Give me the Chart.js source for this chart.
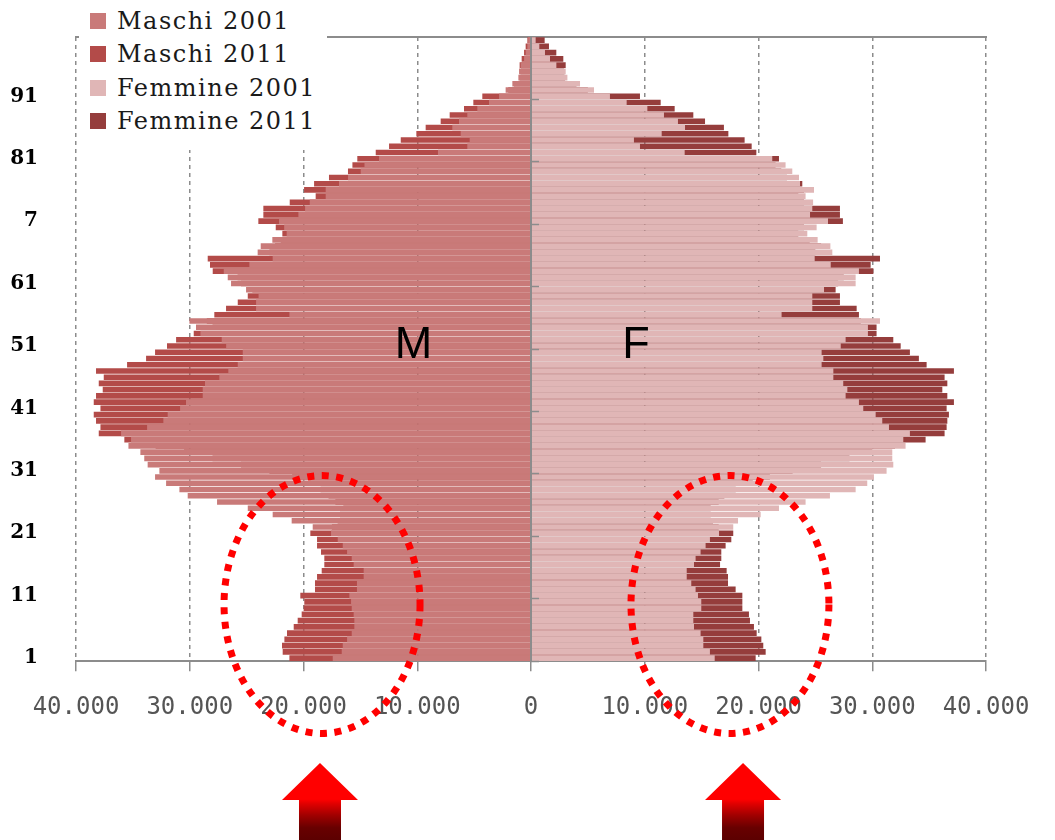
<!DOCTYPE html>
<html lang="it">
<head>
<meta charset="utf-8">
<title>Piramide delle età 2001 - 2011</title>
<script src="https://cdn.jsdelivr.net/npm/chart.js"></script>
<style>
  body { margin: 0; background: #fff; }
  #contenedor { position: relative; width: 1055px; height: 840px; }
  #leyenda {
    position: absolute; left: 79px; top: 0; width: 248px; height: 150px;
    background: #fff; padding-top: 4px; box-sizing: border-box;
    font-family: "DejaVu Serif", serif; font-size: 24px; letter-spacing: 1.5px; color: #1a1a1a;
  }
  .item { display: flex; align-items: center; height: 33.5px; padding-left: 11px; white-space: nowrap; }
  .caja { width: 16px; height: 16px; margin-right: 11px; flex: none; }
</style>
</head>
<body>
<div id="contenedor">
  <canvas id="myChart" width="1055" height="840"></canvas>
  <div id="leyenda"></div>
</div>
<script>
let myChart; // Variable global para almacenar el gráfico

// Età (categorie dell'asse verticale, dal basso verso l'alto)
const eta = [
  1, 2, 3, 4, 5, 6, 7, 8, 9, 10,
  11, 12, 13, 14, 15, 16, 17, 18, 19, 20,
  21, 22, 23, 24, 25, 26, 27, 28, 29, 30,
  31, 32, 33, 34, 35, 36, 37, 38, 39, 40,
  41, 42, 43, 44, 45, 46, 47, 48, 49, 50,
  51, 52, 53, 54, 55, 56, 57, 58, 59, 60,
  61, 62, 63, 64, 65, 66, 67, 68, 69, 70,
  71, 72, 73, 74, 75, 76, 77, 78, 79, 80,
  81, 82, 83, 84, 85, 86, 87, 88, 89, 90,
  91, 92, 93, 94, 95, 96, 97, 98, 99, 100,
];

// Etichette visibili dell'asse verticale (una ogni 10 anni, come nell'originale)
const etichetteEta = ["1", "11", "21", "31", "41", "51", "61", "7", "81", "91"];

// Popolazione per età (1 -> 100)
const maschi2001 = [
  17430, 16640, 16550, 16170, 15760, 15530, 15530, 15590, 15760, 15820,
  15970, 15300, 15300, 14710, 14710, 15590, 15760, 16170, 16550, 16990,
  17580, 19190, 21040, 22710, 24900, 27600, 30180, 30910, 32080, 33050,
  32670, 33700, 34000, 34340, 35390, 35160, 36040, 33750, 32320, 31940,
  30850, 30330, 28860, 28860, 28660, 27400, 26610, 25780, 25340, 25340,
  26800, 27190, 29060, 29450, 30030, 21240, 24170, 24170, 23950, 25050,
  26370, 26660, 27010, 24760, 22710, 24030, 23760, 22740, 21480, 21700,
  22150, 20450, 19860, 19450, 18050, 18050, 16880, 16090, 14970, 14640,
  13360, 8180, 5600, 5390, 6180, 6920, 6330, 5600, 4720, 3690,
  2810, 2230, 1640, 1110, 1050, 910, 610, 470, 320, 250,
];
const maschi2011 = [
  21240, 21830, 21890, 21680, 21450, 20860, 20510, 20160, 19990, 19930,
  20280, 18990, 18990, 18810, 18400, 18170, 18170, 18460, 18810, 18810,
  19400, 17500, 17000, 16800, 16500, 17200, 17800, 18500, 19500, 21000,
  23000, 25500, 28000, 30500, 33000, 35750, 38000, 37850, 38240, 38440,
  37850, 38440, 38240, 37650, 38000, 37560, 38240, 35510, 33840, 33050,
  32000, 31200, 29650, 28000, 28500, 27840, 26810, 25780, 24900, 24500,
  25500, 25800, 27980, 28220, 28420, 23000, 22500, 22000, 21860, 22440,
  23970, 23530, 23530, 21210, 18930, 19950, 19070, 17760, 16090, 15700,
  15270, 13650, 12480, 11450, 10080, 9260, 7940, 7150, 5890, 5070,
  4280, 2000, 1500, 1000, 900, 1000, 820, 610, 470, 320,
];
const femmine2001 = [
  16150, 15730, 15150, 15150, 14910, 14330, 14270, 14270, 14970, 14970,
  14680, 14470, 14090, 13690, 13690, 14330, 14470, 14910, 15350, 15730,
  16530, 17780, 18200, 20190, 21800, 24140, 26280, 28540, 29560, 30150,
  31260, 31850, 31760, 31760, 32930, 32730, 33310, 31470, 30880, 30300,
  29210, 28830, 27660, 27810, 27450, 26580, 26580, 25550, 25700, 25550,
  27230, 27660, 29620, 29620, 30680, 22030, 24730, 24730, 24730, 25760,
  28540, 28540, 28830, 26350, 24940, 26490, 26320, 25200, 24290, 25110,
  26110, 24530, 24730, 24800, 24140, 24880, 23650, 23560, 22970, 22380,
  21210, 13510, 9580, 9050, 11490, 13540, 12920, 11690, 10230, 8410,
  6940, 5540, 4310, 3200, 3050, 2230, 1670, 1230, 730, 410,
];
const femmine2011 = [
  19750, 20630, 20420, 20250, 19840, 19600, 19250, 19160, 18580, 18580,
  18580, 17990, 17320, 17320, 17200, 16620, 16730, 16730, 17110, 17610,
  17780, 16500, 16000, 15800, 15800, 16500, 17000, 18000, 19500, 21000,
  23000, 25500, 28000, 30000, 32000, 34690, 36360, 36540, 36600, 36740,
  36540, 37180, 36600, 36160, 36600, 36360, 37180, 34780, 34100, 33310,
  32500, 31850, 30380, 30380, 29000, 28830, 28630, 27160, 27160, 26780,
  27000, 27500, 30100, 29860, 30680, 25000, 25500, 24500, 23500, 24000,
  27420, 27160, 27160, 24000, 23500, 24000, 23850, 22500, 22000, 21500,
  21800, 19810, 19400, 18780, 17350, 16960, 15300, 14270, 12630, 11400,
  9580, 5000, 4000, 3000, 2900, 3050, 2840, 2225, 1580, 1200,
];

// Formato italiano delle migliaia: 40000 -> "40.000"
function formatoMigliaia(v) {
  return String(Math.abs(v)).replace(/\B(?=(\d{3})+(?!\d))/g, ".");
}

// Flecha roja con degradado hacia abajo
function dibujarFlecha(ctx, cx, yPunta, yBase, yFondo) {
  const grad = ctx.createLinearGradient(0, yPunta, 0, yFondo);
  grad.addColorStop(0, "#ff0000");
  grad.addColorStop(0.47, "#ff0000");
  grad.addColorStop(0.53, "#e00000");
  grad.addColorStop(0.68, "#a00000");
  grad.addColorStop(0.84, "#680000");
  grad.addColorStop(1, "#5c0000");
  ctx.fillStyle = grad;
  ctx.beginPath();
  ctx.moveTo(cx, yPunta);
  ctx.lineTo(cx + 38, yBase);
  ctx.lineTo(cx + 21, yBase);
  ctx.lineTo(cx + 21, yFondo);
  ctx.lineTo(cx - 21, yFondo);
  ctx.lineTo(cx - 21, yBase);
  ctx.lineTo(cx - 38, yBase);
  ctx.closePath();
  ctx.fill();
}

// Plugin para las anotaciones: letras M / F, elipses punteadas y flechas
const anotaciones = {
  id: "anotaciones",
  afterDraw(chart) {
    const { ctx, scales } = chart;
    const x = scales.x;
    const y = scales.y;
    const fila = Math.abs(y.getPixelForValue(0) - y.getPixelForValue(1)); // altura de una fila

    ctx.save();
    // Letras M y F
    ctx.fillStyle = "#000";
    ctx.font = "45px 'Liberation Sans', Arial, sans-serif";
    ctx.textAlign = "center";
    ctx.textBaseline = "middle";
    const yLetras = y.getPixelForValue(eta.indexOf(51));
    ctx.fillText("M", x.getPixelForValue(-10330), yLetras);
    ctx.fillText("F", x.getPixelForValue(9230), yLetras);

    // Elipses punteadas
    ctx.strokeStyle = "#ff0000";
    ctx.lineWidth = 7;
    ctx.setLineDash([7, 7.5]);
    const yElipse = y.getPixelForValue(8.58);
    const ry = 20.66 * fila;
    [[-18370, 8615], [17490, 8700]].forEach(([centro, radio]) => {
      const cx = x.getPixelForValue(centro);
      const rx = x.getPixelForValue(centro + radio) - cx;
      ctx.beginPath();
      ctx.ellipse(cx, yElipse, rx, ry, 0, 0, Math.PI * 2);
      ctx.stroke();
    });
    ctx.setLineDash([]);

    // Flechas
    const h = chart.height;
    [-18550, 18640].forEach((centro) => {
      dibujarFlecha(ctx, x.getPixelForValue(centro), h - 77, h - 40, h);
    });
    ctx.restore();
  },
};

const ctx = document.getElementById("myChart").getContext("2d");

myChart = new Chart(ctx, {
  type: "bar",
  data: {
    labels: eta,
    datasets: [
      { label: "Maschi 2001", data: maschi2001.map((v) => -v), backgroundColor: "#c97a79" },
      { label: "Maschi 2011", data: maschi2011.map((v) => -v), backgroundColor: "#b34b49" },
      { label: "Femmine 2001", data: femmine2001, backgroundColor: "#e0b6b6" },
      { label: "Femmine 2011", data: femmine2011, backgroundColor: "#953d3c" },
    ],
  },
  options: {
    indexAxis: "y",
    responsive: false,
    animation: false,
    layout: { padding: { top: 37, right: 69, bottom: 96, left: 0 } },
    datasets: {
      bar: { grouped: false, barPercentage: 0.9, categoryPercentage: 1, borderWidth: 0 },
    },
    plugins: {
      legend: { display: false },
      tooltip: { enabled: false },
    },
    scales: {
      x: {
        type: "linear",
        min: -40000,
        max: 40000,
        ticks: {
          stepSize: 10000,
          padding: 22,
          autoSkip: false,
          maxRotation: 0,
          color: "#555",
          font: { family: "'DejaVu Sans Mono', monospace", size: 24 },
          callback: (v) => formatoMigliaia(v),
        },
        grid: { color: "#8c8c8c", lineWidth: 1.5, tickLength: 10, tickColor: "#8c8c8c", tickWidth: 1.5 },
        border: { display: true, color: "#8c8c8c", width: 2, dash: [4, 4] },
      },
      xTop: {
        type: "linear",
        position: "top",
        min: -40000,
        max: 40000,
        grid: { display: false, drawTicks: false },
        ticks: { display: false },
        border: { display: true, color: "#8c8c8c", width: 2 },
      },
      y: {
        type: "category",
        reverse: true,
        grid: { display: false },
        border: { display: false },
        ticks: {
          autoSkip: false,
          padding: 30,
          color: "#000",
          font: { family: "'DejaVu Serif', serif", size: 20, weight: "bold" },
          callback: (v, i) => (i % 10 === 0 ? etichetteEta[i / 10] : ""),
        },
        afterFit: (scale) => {
          scale.width = 76; // ancho fijo del eje
          scale.paddingTop = 0; // sin margen extra arriba y abajo
          scale.paddingBottom = 0;
        },
      },
      y2: {
        type: "category",
        axis: "y",
        reverse: true,
        offset: true,
        position: { x: 0 },
        grid: {
          display: true,
          drawOnChartArea: false,
          offset: true,
          tickLength: -9,
          tickWidth: 1.5,
          z: 1,
          tickColor: (c) => (c.index !== undefined && c.index % 10 === 0 && c.index < 100 ? "#8c8c8c" : "rgba(0,0,0,0)"),
        },
        ticks: { display: false },
        border: { display: true, color: "#8c8c8c", width: 2, z: 1 },
      },
    },
  },
  plugins: [anotaciones],
});

// Leyenda HTML con fondo blanco (tapa la rejilla como en el original)
const leyenda = document.getElementById("leyenda");
myChart.data.datasets.forEach((ds) => {
  leyenda.insertAdjacentHTML(
    "beforeend",
    `<div class="item"><span class="caja" style="background:${ds.backgroundColor}"></span>${ds.label}</div>`
  );
});
</script>
</body>
</html>
